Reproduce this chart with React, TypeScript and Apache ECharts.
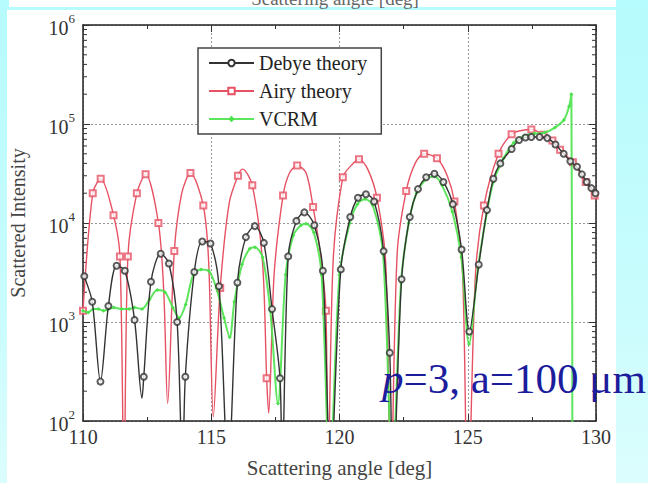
import React, { useEffect, useRef } from "react";
import * as echarts from "echarts";

// ---- axes ----
const xMin = 110;
const xMax = 130;
const xStep = 5;
const yMin = 100;
const yMax = 1000000;
const yMinorTicks = [
  200, 300, 400, 500, 600, 700, 800, 900,
  2000, 3000, 4000, 5000, 6000, 7000, 8000, 9000,
  20000, 30000, 40000, 50000, 60000, 70000, 80000, 90000,
  200000, 300000, 400000, 500000, 600000, 700000, 800000, 900000,
];

// ---- Debye theory (black, circles) ----
const debyeMarkers: [number, number][] = [
  [110.05, 2900], [110.36, 1600], [110.68, 250], [110.99, 1450], [111.31, 3700],
  [111.63, 3300], [112.01, 1050], [112.37, 280], [112.65, 2550], [113.03, 4900],
  [113.35, 3900], [113.67, 1000], [113.99, 280], [114.34, 3200], [114.65, 6500],
  [114.97, 6200], [115.3, 2300], [116.02, 2500], [116.35, 7200], [116.7, 9300],
  [117.05, 6300], [117.37, 1350], [117.68, 270], [118.0, 4600], [118.32, 10500],
  [118.63, 12800], [119.02, 9500], [119.35, 3300], [120.05, 3400], [120.42, 11500],
  [120.72, 18000], [121.03, 19500], [121.35, 16500], [121.72, 5200], [121.96, 490],
  [122.42, 2700], [122.74, 11500], [123.06, 22000], [123.38, 29000], [123.7, 31500],
  [124.05, 26000], [124.42, 15500], [124.76, 5400], [125.06, 800], [125.43, 3800],
  [125.75, 13500], [126.0, 28000], [126.27, 40000], [126.71, 56000], [127.0, 69000],
  [127.25, 73000], [127.48, 74000], [127.8, 74000], [128.1, 72000], [128.42, 62000],
  [128.74, 50000], [129.0, 42000], [129.26, 37000], [129.45, 31000], [129.64, 26000],
  [129.82, 22500], [129.98, 20000],
];
const debyeExtra: [number, number][] = [
  [110.0, 3000], [112.3, 170], [113.88, 30], [115.66, 30], [117.76, 30],
  [119.65, 30], [122.08, 20],
];

// ---- Airy theory (red, squares) ----
const airyMarkers: [number, number][] = [
  [110.0, 1300], [110.38, 20000], [110.69, 28000], [111.19, 12000], [111.44, 4600],
  [111.75, 4600], [112.1, 20000], [112.44, 31000], [112.94, 10000], [113.56, 5200],
  [114.19, 32000], [114.69, 15000], [115.35, 2200], [116.04, 30000], [116.6, 24000],
  [117.16, 270], [117.8, 19000], [118.35, 38000], [118.97, 14500], [119.47, 1300],
  [120.13, 29000], [120.76, 44000], [121.46, 18000], [122.6, 21000], [123.3, 50000],
  [123.8, 45000], [124.48, 16500], [125.63, 15000], [126.2, 50000], [126.71, 79000],
  [127.48, 88000], [127.95, 78000], [128.3, 68000], [128.6, 55000], [129.1, 41000],
  [129.6, 26000], [129.95, 19000],
];
const airyExtra: [number, number][] = [
  [111.6, 20], [113.15, 2000], [113.3, 150], [113.85, 20000], [114.9, 4000],
  [115.08, 110], [115.7, 16000], [116.22, 35000], [117.0, 4000], [117.24, 120],
  [117.45, 3000], [118.05, 32000], [118.7, 32000], [119.25, 5000], [119.55, 20],
  [119.75, 4000], [120.45, 38000], [121.1, 35000], [121.8, 4000], [122.0, 20],
  [122.25, 5000], [122.95, 40000], [124.2, 30000], [124.8, 3000], [125.0, 10],
  [125.3, 3000], [127.1, 86000],
];

// ---- VCRM (green) ----
const vcrmCurve: [number, number][] = [
  [110.0, 1300], [110.2, 1250], [110.4, 1350], [110.6, 1350], [110.8, 1300],
  [111.0, 1350], [111.2, 1400], [111.5, 1350], [111.8, 1350], [112.0, 1400],
  [112.3, 1350], [112.6, 1700], [112.9, 2100], [113.2, 2000], [113.5, 1400],
  [113.75, 1100], [114.0, 1500], [114.3, 3000], [114.6, 3400], [114.9, 3300],
  [115.2, 2200], [115.5, 1100], [115.72, 700], [115.9, 1600], [116.2, 3800],
  [116.5, 5500], [116.7, 5700], [117.0, 4500], [117.3, 1300], [117.6, 150],
  [117.9, 3000], [118.2, 7500], [118.5, 9500], [118.7, 9800], [119.0, 8000],
  [119.3, 3000], [119.62, 30], [120.0, 3000], [120.4, 10000], [120.7, 15500],
  [121.0, 17500], [121.3, 15000], [121.7, 4800], [122.06, 30], [122.4, 2500],
  [122.7, 10000], [123.0, 20000], [123.4, 28000], [123.7, 29500], [124.0, 24000],
  [124.4, 13000], [124.75, 4500], [125.05, 600], [125.4, 3500], [125.75, 13000],
  [126.0, 26000], [126.4, 45000], [126.8, 65000], [127.2, 76000], [127.6, 80000],
  [128.0, 82000], [128.4, 92000], [128.75, 110000], [128.95, 150000], [129.04, 200000],
  [129.08, 10],
];

const legendNames = ["Debye theory", "Airy theory", "VCRM"];
const xTitle = "Scattering angle [deg]";
const yTitle = "Scattered Intensity";

const SERIF = "'Liberation Serif', 'DejaVu Serif', serif";
const BLACK = "#333333";
const RED = "#e65264";
const GREEN = "#4be24b";

const byX = (a: [number, number], b: [number, number]) => a[0] - b[0];

export default function App() {
  const ref = useRef<HTMLDivElement>(null);

  useEffect(() => {
    if (!ref.current) return;
    const chart = echarts.init(ref.current, undefined, { renderer: "svg" });

    const debyeCurve = [...debyeMarkers, ...debyeExtra].sort(byX);
    const airyCurve = [...airyMarkers, ...airyExtra].sort(byX);

    const axisLine = { show: true, lineStyle: { color: "#222", width: 1.5 } };
    const tick = { show: true, inside: true, length: 7, lineStyle: { color: "#333", width: 1 } };

    chart.setOption({
      animation: false,
      backgroundColor: "transparent",
      grid: { left: 73, right: 52, top: 25, bottom: 51, containLabel: false },
      legend: {
        data: legendNames,
        orient: "vertical",
        left: 198,
        top: 48,
        itemWidth: 45,
        itemHeight: 8,
        itemGap: 8,
        padding: [5, 14, 5, 10],
        borderColor: "#444",
        borderWidth: 1.5,
        backgroundColor: "#fff",
        selectedMode: false,
        textStyle: { fontFamily: SERIF, fontSize: 20, color: "#222" },
      },
      xAxis: [
        {
          type: "value",
          min: xMin,
          max: xMax,
          interval: xStep,
          name: xTitle,
          nameLocation: "middle",
          nameGap: 36,
          nameTextStyle: { fontFamily: SERIF, fontSize: 21, color: "#444" },
          axisLine,
          axisTick: tick,
          minorTick: { show: true, splitNumber: 2, length: 4, lineStyle: { color: "#333" } },
          axisLabel: { fontFamily: SERIF, fontSize: 20, color: "#333", margin: 6 },
          splitLine: { show: true, lineStyle: { color: "#999", type: [2, 2], width: 1 } },
        },
        {
          type: "value",
          position: "top",
          min: xMin,
          max: xMax,
          interval: xStep,
          axisLine,
          axisTick: tick,
          minorTick: { show: true, splitNumber: 2, length: 4, lineStyle: { color: "#333" } },
          axisLabel: { show: false },
          splitLine: { show: false },
        },
      ],
      yAxis: [
        {
          type: "log",
          logBase: 10,
          min: yMin,
          max: yMax,
          name: yTitle,
          nameLocation: "middle",
          nameGap: 55,
          nameTextStyle: { fontFamily: SERIF, fontSize: 20, color: "#444" },
          axisLine,
          axisTick: tick,
          axisLabel: {
            margin: 8,
            formatter: (v: number) => `{b|10}{s|${Math.round(Math.log10(v))}}`,
            rich: {
              b: { fontFamily: SERIF, fontSize: 20, color: "#333", lineHeight: 26, verticalAlign: "bottom" },
              s: { fontFamily: SERIF, fontSize: 13, color: "#333", lineHeight: 14, verticalAlign: "top" },
            },
          },
          splitLine: { show: true, lineStyle: { color: "#999", type: [2, 2], width: 1 } },
        },
        {
          type: "log",
          logBase: 10,
          position: "right",
          min: yMin,
          max: yMax,
          axisLine,
          axisTick: tick,
          axisLabel: { show: false },
          splitLine: { show: false },
        },
      ],
      graphic: [
        {
          type: "text",
          x: 335,
          y: 8,
          silent: true,
          style: {
            text: xTitle,
            font: `19px ${SERIF}`,
            fill: "#666",
            align: "center",
            verticalAlign: "bottom",
          },
        },
        {
          type: "text",
          x: 382,
          y: 378,
          z: 100,
          silent: true,
          style: {
            text: "{i|p}{n|=3, a=100 μm}",
            align: "left",
            verticalAlign: "middle",
            rich: {
              i: { font: `italic 43px ${SERIF}`, fill: "#1c1c9c" },
              n: { font: `43px ${SERIF}`, fill: "#1c1c9c" },
            },
          },
        },
      ],
      series: [
        {
          type: "custom",
          silent: true,
          clip: false,
          xAxisIndex: 0,
          yAxisIndex: 0,
          data: yMinorTicks.map((v) => [xMin, v]),
          renderItem: (_params: any, api: any) => {
            const v = api.value(1);
            const l = api.coord([xMin, v]);
            const r = api.coord([xMax, v]);
            return {
              type: "group",
              children: [
                { type: "line", shape: { x1: l[0], y1: l[1], x2: l[0] + 4, y2: l[1] }, style: { stroke: "#333", lineWidth: 1 } },
                { type: "line", shape: { x1: r[0] - 4, y1: r[1], x2: r[0], y2: r[1] }, style: { stroke: "#333", lineWidth: 1 } },
              ],
            };
          },
        },
        {
          name: "Airy theory",
          type: "line",
          data: airyCurve,
          smooth: 0.3,
          showSymbol: false,
          symbol: "emptyRect",
          symbolSize: 6,
          clip: true,
          lineStyle: { color: RED, width: 1.4 },
          itemStyle: { color: RED, borderWidth: 1.2 },
          z: 2,
        },
        {
          name: "Airy theory",
          type: "scatter",
          data: airyMarkers,
          symbol: "emptyRect",
          symbolSize: 6,
          clip: true,
          itemStyle: { color: RED, borderWidth: 1.2 },
          z: 3,
        },
        {
          name: "VCRM",
          type: "line",
          data: vcrmCurve,
          smooth: 0.3,
          showSymbol: true,
          symbol: "diamond",
          symbolSize: 4,
          clip: true,
          lineStyle: { color: GREEN, width: 2, opacity: 0.9 },
          itemStyle: { color: GREEN },
          z: 4,
        },
        {
          name: "Debye theory",
          type: "line",
          data: debyeCurve,
          smooth: 0.3,
          showSymbol: false,
          symbol: "emptyCircle",
          symbolSize: 6,
          clip: true,
          lineStyle: { color: BLACK, width: 1.4 },
          itemStyle: { color: BLACK, borderWidth: 1.2 },
          z: 5,
        },
        {
          name: "Debye theory",
          type: "scatter",
          data: debyeMarkers,
          symbol: "emptyCircle",
          symbolSize: 6,
          clip: true,
          itemStyle: { color: BLACK, borderWidth: 1.2 },
          z: 6,
        },
      ],
    });

    return () => chart.dispose();
  }, []);

  return (
    <div
      style={{
        position: "fixed",
        left: 0,
        top: 0,
        width: 648,
        height: 483,
        overflow: "hidden",
        background: "linear-gradient(180deg, #b6fbfd 0%, #c8fcfd 60%, #dcfdfd 100%)",
      }}
    >
      <div style={{ position: "absolute", left: 9, top: 0, width: 607, height: 7, background: "#fff" }} />
      <div style={{ position: "absolute", left: 7, top: 10, width: 609, height: 473, background: "#fff" }} />
      <div ref={ref} style={{ position: "absolute", left: 0, top: 0, width: 648, height: 483 }} />
    </div>
  );
}
